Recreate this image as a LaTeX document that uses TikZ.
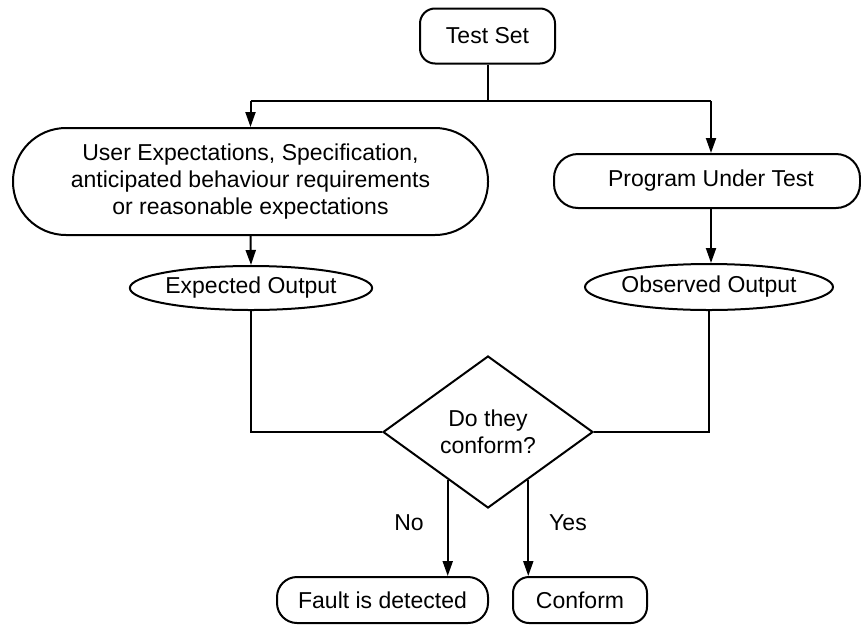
\documentclass[tikz,border=0pt]{standalone}
\usepackage{fontspec}
\setmainfont{Liberation Sans}
\usetikzlibrary{shapes.geometric,arrows.meta,calc}

\begin{document}
\begin{tikzpicture}[x=1pt,y=-1pt,
  font=\fontsize{23}{27}\selectfont,
  every node/.style={inner sep=0pt, align=center},
  line/.style={line width=2pt, line join=miter},
  arrow/.style={line, -{Triangle[length=15pt,width=10pt]}},
  roundbox/.style={draw, line width=2pt, rectangle},
  oval/.style={draw, line width=2pt, ellipse},
  decision/.style={draw, line width=2pt, diamond}]
  \useasboundingbox (0,0) rectangle (861,627);

  % process boxes
  \node[roundbox, rounded corners=15pt, minimum width=135pt, minimum height=55pt]
    (ts) at (487.5,36) {Test Set};
  \node[roundbox, rounded corners=53pt, minimum width=475pt, minimum height=107pt]
    (spec) at (250.5,181.5) {User Expectations, Specification,\\anticipated behaviour requirements\\or reasonable expectations};
  \node[roundbox, rounded corners=24pt, minimum width=306pt, minimum height=54pt]
    (put) at (707,181) {\hspace*{8pt}Program Under Test};

  % outputs
  \node[oval, minimum width=237pt, minimum height=44pt] (exp) at (251,288) {Expected Output};
  \node[oval, minimum width=248pt, minimum height=46pt] (obs) at (709,287) {Observed Output};

  % comparison
  \node[decision, minimum width=210pt, minimum height=152pt] (dec) at (488,432)
    {Do they\\conform?};

  % results
  \node[roundbox, rounded corners=20pt, minimum width=211pt, minimum height=46pt]
    (fault) at (382.5,600) {Fault is detected};
  \node[roundbox, rounded corners=16pt, minimum width=134pt, minimum height=46pt]
    (conf) at (580,600) {Conform};

  \node (no) at (409,523) {No};
  \node (yes) at (568,523) {Yes};

  % branching from the test set
  \coordinate (split) at (487.5,101);
  \coordinate (lc) at (250.5,101);
  \coordinate (rc) at (711,101);
  \draw[line] (ts.south) -- (split);
  \draw[line] (lc) -- (rc);
  \draw[arrow] (lc) -- (spec.north);
  \draw[arrow] (rc) -- (rc |- put.north);

  \draw[arrow] (spec.south) -- (exp.north);
  \draw[arrow] (put.south -| rc) -- (rc |- obs.north);

  % feeding the comparison
  \draw[line] (exp.south) -- (exp.south |- dec.west) -- (dec.west);
  \draw[line] (obs.south) -- (obs.south |- dec.east) -- (dec.east);

  % outcomes
  \coordinate (noStart) at ($(dec.west)!0.62!(dec.south)$);
  \coordinate (yesStart) at ($(dec.east)!0.62!(dec.south)$);
  \draw[arrow] (noStart) -- (noStart |- fault.north);
  \draw[arrow] (yesStart) -- (yesStart |- conf.north);
\end{tikzpicture}
\end{document}
